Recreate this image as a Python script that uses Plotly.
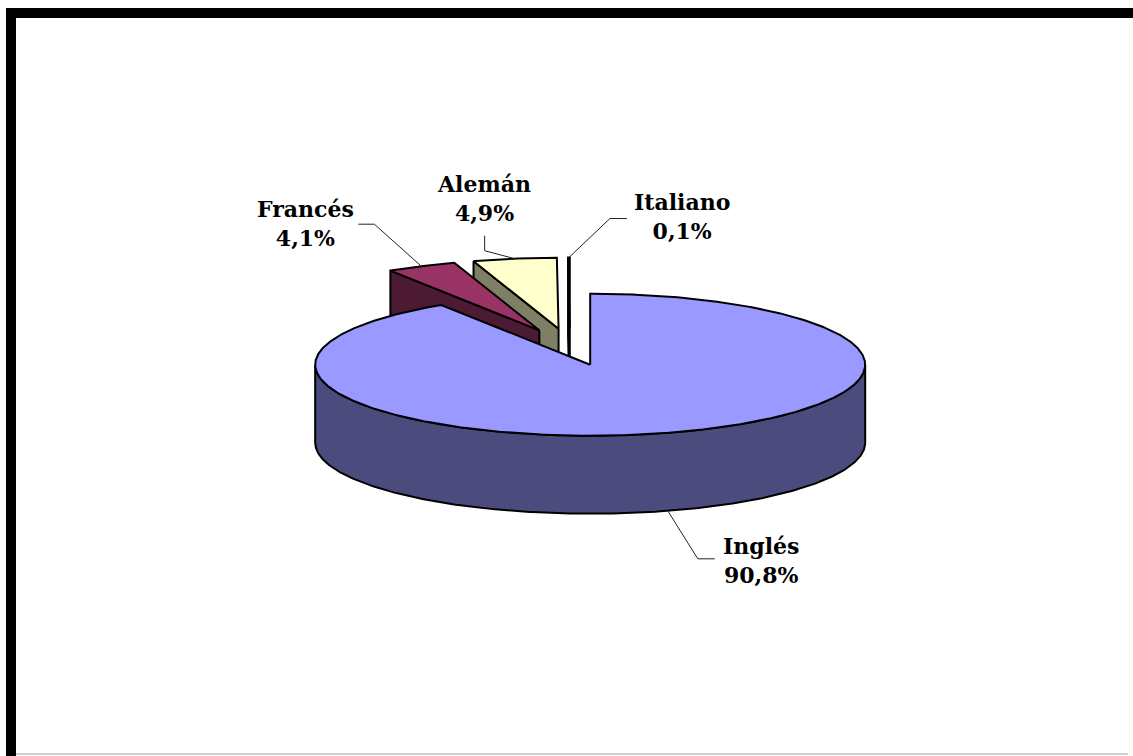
import numpy as np
import plotly.graph_objects as go

# Language shares (%) shown in the exploded 3D pie
languages = ["Inglés", "Francés", "Alemán", "Italiano"]
shares = [90.8, 4.1, 4.9, 0.1]
top_colors = ["#9999FF", "#993366", "#FFFFCC", "#FFFFFF"]
side_colors = ["#4B4B7D", "#4D1A33", "#7F7F66", "#7F7F7F"]

# Projection of the tilted pie onto the canvas (axis units = pixels)
W, H = 1133, 756
CX, CY = 570, 347        # centre of the un-exploded pie
A, B = 275, 71           # ellipse semi-axes of the top face
DEPTH = 78               # thickness of the pie
EXPLODE = 0.26           # radial offset of every slice (fraction of radius)

# Leader-line elbows (relative to the slice anchor) and label offsets
leader_style = {
    "Inglés":   dict(elbow=(30, 48), end=(47, 48), label=(93, 50)),
    "Francés":  dict(elbow=(-47, -42), end=(-63, -42), label=(-116, -43)),
    "Alemán":   dict(elbow=(-30, -8), end=(-30, -23), label=(-31, -60)),
    "Italiano": dict(elbow=(41, -39), end=(58, -39), label=(113, -41)),
}


def rim(cx, cy, th_deg, r=1.0, dz=0.0):
    th = np.radians(th_deg)
    return cx + A * r * np.sin(th), cy - B * r * np.cos(th) + dz


def arc(cx, cy, t0, t1, dz=0.0):
    n = max(2, int(abs(t1 - t0) * 2) + 2)
    ts = np.linspace(t0, t1, n)
    xs, ys = rim(cx, cy, ts, dz=dz)
    return list(xs), list(ys)


def poly(xs, ys, fill):
    return go.Scatter(
        x=xs + [xs[0]], y=ys + [ys[0]], mode="lines", fill="toself",
        fillcolor=fill, line=dict(color="black", width=2),
        hoverinfo="skip", showlegend=False,
    )


fig = go.Figure()

total = sum(shares)
bounds = []
acc = 0.0
for v in shares:
    s = acc / total * 360
    acc += v
    e = acc / total * 360
    bounds.append((s, e))

# Paint from the back of the pie towards the viewer
order = sorted(range(len(shares)),
               key=lambda i: -np.cos(np.radians(sum(bounds[i]) / 2)))

anchors = {}
for i in order:
    s, e = bounds[i]
    mid = (s + e) / 2
    cx = CX + EXPLODE * A * np.sin(np.radians(mid))
    cy = CY - EXPLODE * B * np.cos(np.radians(mid))

    # radial walls facing the viewer
    if np.sin(np.radians(s)) < -1e-6:
        rx, ry = rim(cx, cy, s)
        fig.add_trace(poly([cx, rx, rx, cx], [cy, ry, ry + DEPTH, cy + DEPTH],
                           side_colors[i]))
    if np.sin(np.radians(e)) > 1e-6:
        rx, ry = rim(cx, cy, e)
        fig.add_trace(poly([cx, rx, rx, cx], [cy, ry, ry + DEPTH, cy + DEPTH],
                           side_colors[i]))

    # curved outer side (front half only)
    f0, f1 = max(s, 90), min(e, 270)
    if f1 > f0:
        tx, ty = arc(cx, cy, f0, f1)
        bx, by = arc(cx, cy, f1, f0, dz=DEPTH)
        fig.add_trace(poly(tx + bx, ty + by, side_colors[i]))

    # top face
    tx, ty = arc(cx, cy, s, e)
    fig.add_trace(poly([cx] + tx, [cy] + ty, top_colors[i]))

    ax, ay = rim(cx, cy, mid)
    if np.cos(np.radians(mid)) < 0:
        ay += DEPTH
    anchors[languages[i]] = (ax, ay)

# Labels with leader lines
for name, v in zip(languages, shares):
    ax, ay = anchors[name]
    st = leader_style[name]
    xs = [ax, ax + st["elbow"][0], ax + st["end"][0]]
    ys = [ay, ay + st["elbow"][1], ay + st["end"][1]]
    fig.add_trace(go.Scatter(x=xs, y=ys, mode="lines",
                             line=dict(color="#222222", width=1),
                             hoverinfo="skip", showlegend=False))
    pct = f"{v:.1f}".replace(".", ",") + "%"
    fig.add_annotation(
        x=ax + st["label"][0], y=ay + st["label"][1],
        text=f"<b>{name}</b><br><b>{pct}</b>", showarrow=False,
        xanchor="center", yanchor="middle", align="center",
        font=dict(family="DejaVu Serif", size=22, color="black"),
    )

# Thick chart frame
fig.add_shape(type="rect", x0=11, x1=1138, y0=13, y1=761,
              line=dict(color="black", width=10), layer="above")
fig.add_shape(type="line", x0=16, x1=1128, y0=754, y1=754,
              line=dict(color="#A0A0A0", width=1))

fig.update_xaxes(range=[0, W], visible=False, fixedrange=True)
fig.update_yaxes(range=[H, 0], visible=False, fixedrange=True)
fig.update_layout(
    width=W, height=H, margin=dict(l=0, r=0, t=0, b=0),
    paper_bgcolor="white", plot_bgcolor="white",
)

fig.write_html("out.html")
